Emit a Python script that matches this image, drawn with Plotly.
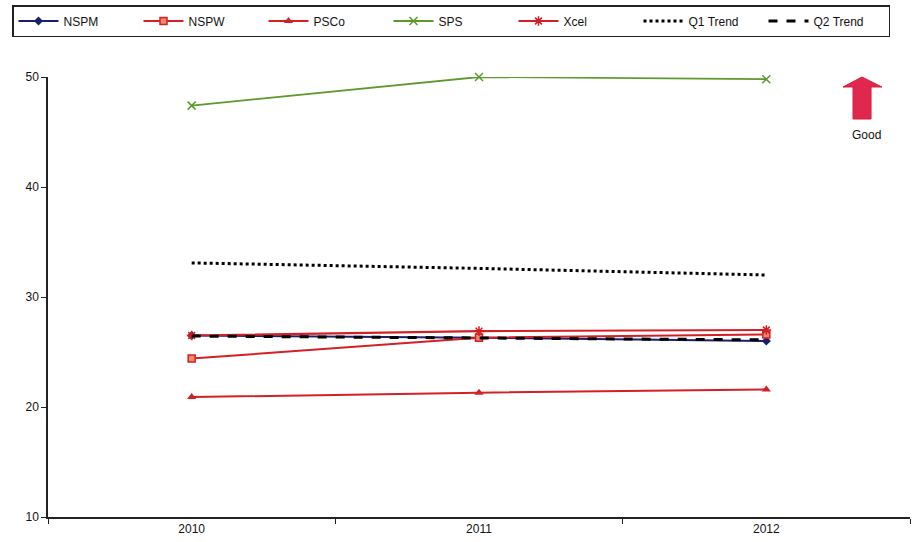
import plotly.graph_objects as go

years = ["2010", "2011", "2012"]

nspm = [26.5, 26.3, 26.0]
nspw = [24.4, 26.3, 26.6]
psco = [20.9, 21.3, 21.6]
sps = [47.4, 50.0, 49.8]
xcel = [26.5, 26.9, 27.0]
q1_trend = [33.1, 32.6, 32.0]
q2_trend = [26.45, 26.3, 26.1]

RED = "#d41f26"
NAVY = "#1a1f6b"
GREEN = "#5c9a2c"

fig = go.Figure()

fig.add_trace(go.Scatter(x=years, y=nspm, name="NSPM", mode="lines+markers",
                         line=dict(color=NAVY, width=2),
                         marker=dict(symbol="diamond", size=7, color=NAVY)))
fig.add_trace(go.Scatter(x=years, y=nspw, name="NSPW", mode="lines+markers",
                         line=dict(color=RED, width=2),
                         marker=dict(symbol="square", size=7, color="#f08a6a",
                                     line=dict(color=RED, width=1.5))))
fig.add_trace(go.Scatter(x=years, y=psco, name="PSCo", mode="lines+markers",
                         line=dict(color=RED, width=2),
                         marker=dict(symbol="triangle-up", size=8, color=RED)))
fig.add_trace(go.Scatter(x=years, y=sps, name="SPS", mode="lines+markers",
                         line=dict(color=GREEN, width=1.8),
                         marker=dict(symbol="x-thin-open", size=8,
                                     line=dict(color="#a8b84a", width=1.5))))
fig.add_trace(go.Scatter(x=years, y=xcel, name="Xcel", mode="lines+markers",
                         line=dict(color=RED, width=2.2),
                         marker=dict(symbol="asterisk-open", size=8,
                                     line=dict(color="#b0306a", width=1.5))))
fig.add_trace(go.Scatter(x=years, y=q1_trend, name="Q1 Trend", mode="lines",
                         line=dict(color="black", width=3, dash="dot")))
fig.add_trace(go.Scatter(x=years, y=q2_trend, name="Q2 Trend", mode="lines",
                         line=dict(color="black", width=3, dash="dash")))
fig.update_traces(cliponaxis=False)

# plot-area geometry in pixels, used to place the decorations
L, R, T, B = 48, 910, 77, 517


def px_x(p):
    return (p - L) / (R - L)


def px_y(p):
    return (B - p) / (B - T)


# "Good" block arrow pointing up
pts = [(843, 87), (862, 77), (882, 87), (871, 87), (871, 119), (853, 119), (853, 87)]
path = "M " + " L ".join(f"{px_x(a):.4f},{px_y(b):.4f}" for a, b in pts) + " Z"
fig.add_shape(type="path", xref="paper", yref="paper", path=path,
              fillcolor="#e0284f", line=dict(color="#d41f3a", width=1))
fig.add_annotation(x=px_x(866), y=px_y(135), xref="paper", yref="paper",
                   xanchor="center", yanchor="middle",
                   text="Good", showarrow=False,
                   font=dict(family="Arial", size=12, color="#111"))

fig.update_layout(
    width=913, height=542,
    margin=dict(l=L, r=913 - R, t=T, b=542 - B),
    paper_bgcolor="white", plot_bgcolor="white",
    font=dict(family="Arial", size=12, color="#111"),
    showlegend=True,
    legend=dict(orientation="h", x=px_x(12), y=px_y(5), xanchor="left", yanchor="top",
                bordercolor="#222", borderwidth=1.5, bgcolor="white",
                font=dict(family="Arial", size=12, color="#111"),
                entrywidth=70, entrywidthmode="pixels", itemwidth=40),
    xaxis=dict(type="category", range=[-0.5, 2.5], showgrid=False, showline=True,
               linecolor="#222", linewidth=1.5, ticks="outside", tickson="boundaries",
               ticklen=5, tickcolor="#222", tickfont=dict(size=12)),
    yaxis=dict(range=[10, 50], dtick=10, showgrid=False, showline=True,
               linecolor="#222", linewidth=1.5, ticks="outside", ticklen=5,
               tickcolor="#222", zeroline=False, tickfont=dict(size=12)),
)

fig.write_html("out.html")
